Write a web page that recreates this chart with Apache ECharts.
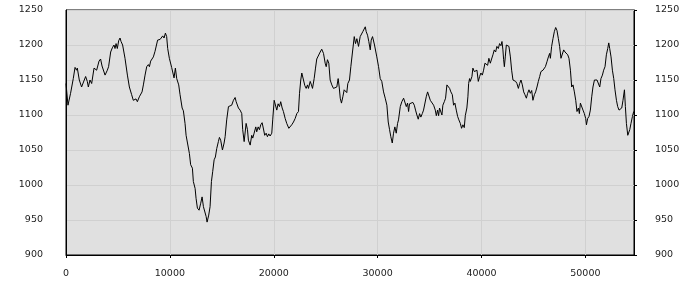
<!DOCTYPE html>
<html><head><meta charset="utf-8">
<script src="https://cdn.jsdelivr.net/npm/echarts@6/dist/echarts.min.js"></script>
<style>html,body{margin:0;padding:0;background:#fff}#c{width:700px;height:300px}</style>
</head><body><div id="c"></div>
<script>
const xTicks = [0, 10000, 20000, 30000, 40000, 50000];
const yTicks = [900, 950, 1000, 1050, 1100, 1150, 1200, 1250];
const xValues = [0,190,440,700,870,1020,1090,1280,1500,1670,1890,2050,2150,2310,2470,2700,2850,2950,3180,3330,3470,3590,3760,3980,4100,4300,4460,4620,4720,4820,4940,5070,5200,5300,5450,5680,5910,6100,6320,6480,6650,6740,6870,7060,7190,7320,7450,7610,7770,7930,8030,8150,8250,8410,8570,8730,8820,9060,9210,9310,9440,9570,9690,9790,9950,10170,10340,10400,10530,10660,10850,10980,11180,11300,11460,11560,11720,11880,12000,12170,12260,12430,12520,12650,12810,12970,13100,13230,13350,13490,13580,13740,13870,14000,14120,14260,14380,14510,14670,14770,14890,15060,15220,15320,15470,15640,15800,15950,16120,16280,16380,16500,16600,16760,16920,17010,17150,17340,17470,17560,17730,17880,17980,18110,18270,18360,18500,18620,18750,18880,19010,19130,19270,19390,19520,19650,19810,19900,20040,20190,20290,20420,20550,20670,20810,20930,21100,21250,21450,21580,21730,21900,22060,22220,22380,22480,22600,22700,22860,22990,23120,23250,23340,23510,23630,23730,23890,24020,24140,24310,24470,24620,24790,24950,25050,25170,25300,25430,25590,25750,25920,26070,26200,26300,26400,26520,26650,26780,26910,27030,27130,27290,27420,27580,27750,27870,28000,28160,28320,28450,28570,28710,28810,28900,29030,29150,29290,29380,29510,29610,29700,29800,29920,30090,30250,30400,30570,30730,30890,31020,31150,31270,31410,31530,31660,31790,31920,32010,32180,32330,32500,32620,32760,32880,32980,33070,33240,33390,33530,33650,33780,33910,34040,34160,34300,34420,34550,34680,34810,34930,35070,35220,35390,35550,35650,35770,35870,35960,36090,36190,36280,36420,36540,36670,36800,36930,37050,37190,37310,37440,37570,37700,37820,37960,38080,38210,38340,38440,38590,38690,38760,38850,38920,39080,39170,39310,39430,39560,39690,39820,39940,40080,40200,40330,40460,40590,40710,40850,40970,41100,41230,41360,41480,41620,41740,41870,41970,42060,42130,42200,42290,42390,42520,42640,42780,42900,43030,43160,43290,43410,43550,43670,43800,43930,44060,44180,44320,44440,44570,44700,44830,44950,45090,45210,45340,45470,45600,45720,45920,46050,46150,46300,46440,46560,46630,46750,46880,47010,47140,47260,47400,47520,47650,47780,47910,48040,48170,48300,48420,48560,48680,48810,48940,49070,49190,49330,49420,49520,49640,49770,49900,50030,50100,50220,50350,50480,50610,50730,50870,50990,51120,51250,51380,51500,51640,51760,51890,52020,52150,52250,52340,52470,52600,52730,52850,52990,53110,53240,53370,53500,53620,53760,53850,53950,54080,54170,54270,54390,54530,54650];
const yValues = [1145,1114,1131,1152,1168,1164,1167,1150,1140,1138,1155,1148,1140,1150,1145,1167,1168,1164,1177,1180,1170,1171,1157,1164,1169,1190,1196,1200,1195,1202,1195,1206,1210,1205,1200,1181,1157,1140,1129,1121,1119,1123,1119,1126,1124,1133,1143,1157,1169,1172,1169,1177,1175,1183,1191,1193,1207,1208,1207,1213,1210,1217,1212,1195,1181,1168,1167,1153,1167,1152,1143,1129,1110,1106,1088,1071,1069,1045,1029,1024,1005,995,981,967,964,974,983,969,967,955,947,957,969,1005,1019,1036,1040,1052,1062,1068,1064,1050,1060,1069,1093,1112,1114,1114,1121,1125,1119,1121,1110,1107,1102,1079,1062,1088,1079,1064,1057,1071,1067,1074,1083,1076,1083,1079,1086,1089,1080,1071,1074,1069,1073,1070,1074,1093,1121,1119,1107,1116,1112,1119,1110,1105,1095,1088,1081,1080,1086,1090,1095,1102,1105,1131,1150,1160,1160,1142,1138,1143,1138,1148,1143,1138,1152,1167,1180,1181,1190,1194,1188,1174,1169,1179,1174,1150,1143,1138,1136,1140,1152,1140,1124,1117,1126,1136,1138,1132,1145,1150,1169,1190,1212,1202,1209,1198,1212,1210,1219,1221,1226,1219,1214,1205,1193,1207,1212,1214,1200,1198,1183,1169,1152,1148,1133,1124,1114,1090,1079,1069,1060,1074,1083,1074,1088,1093,1112,1119,1124,1126,1112,1117,1105,1116,1114,1118,1114,1107,1100,1094,1102,1097,1102,1107,1105,1126,1133,1131,1121,1119,1114,1107,1099,1107,1099,1110,1112,1100,1114,1119,1124,1143,1144,1138,1133,1129,1114,1117,1107,1098,1093,1088,1081,1086,1082,1099,1110,1126,1145,1152,1148,1155,1167,1162,1164,1164,1148,1155,1160,1157,1164,1174,1176,1171,1181,1174,1180,1186,1193,1190,1198,1195,1202,1199,1205,1193,1179,1169,1183,1200,1202,1198,1183,1164,1150,1148,1148,1145,1138,1145,1150,1143,1133,1129,1124,1131,1136,1131,1135,1121,1129,1133,1140,1148,1155,1162,1164,1162,1169,1176,1183,1188,1181,1198,1209,1219,1225,1221,1209,1198,1181,1183,1193,1190,1188,1186,1181,1164,1140,1143,1133,1121,1105,1110,1102,1117,1119,1107,1102,1095,1086,1095,1098,1107,1126,1140,1150,1152,1150,1152,1140,1152,1157,1164,1169,1186,1195,1203,1195,1183,1164,1152,1136,1121,1112,1107,1105,1110,1121,1136,1112,1088,1071,1069,1079,1088,1098,1105];

const data = xValues.map((x, i) => [x, yValues[i]]);
const plain = v => String(v);
const font = { fontFamily: 'DejaVu Sans', fontSize: 9.5, color: '#222', formatter: plain };
const chart = echarts.init(document.getElementById('c'), null, { renderer: 'canvas' });
chart.setOption({
  animation: false,
  grid: { left: 66, right: 66, top: 10, bottom: 45, show: true, backgroundColor: '#e0e0e0', borderColor: '#000', borderWidth: 1 },
  xAxis: {
    type: 'value', min: xTicks[0], max: 54680, interval: xTicks[1] - xTicks[0],
    axisLine: { lineStyle: { color: '#000', width: 1 } },
    axisTick: { show: true, length: 3, lineStyle: { color: '#000' } },
    axisLabel: Object.assign({ margin: 14, showMaxLabel: false }, font),
    splitLine: { show: true, lineStyle: { color: '#d0d0d0', width: 1 } }
  },
  yAxis: [
    {
      type: 'value', position: 'left', min: yTicks[0], max: yTicks[yTicks.length - 1], interval: yTicks[1] - yTicks[0],
      axisLine: { show: true, lineStyle: { color: '#000' } },
      axisTick: { show: false },
      axisLabel: Object.assign({ margin: 23 }, font),
      splitLine: { show: true, lineStyle: { color: '#d0d0d0', width: 1 } }
    },
    {
      type: 'value', position: 'right', min: yTicks[0], max: yTicks[yTicks.length - 1], interval: yTicks[1] - yTicks[0],
      axisLine: { show: true, lineStyle: { color: '#000' } },
      axisTick: { show: true, length: 3, lineStyle: { color: '#000' } },
      axisLabel: Object.assign({ margin: 21 }, font),
      splitLine: { show: false }
    }
  ],
  series: [{
    type: 'line', data: data, showSymbol: false, symbol: 'none',
    lineStyle: { color: '#000', width: 1 }, yAxisIndex: 0
  }]
});
</script>
</body></html>
